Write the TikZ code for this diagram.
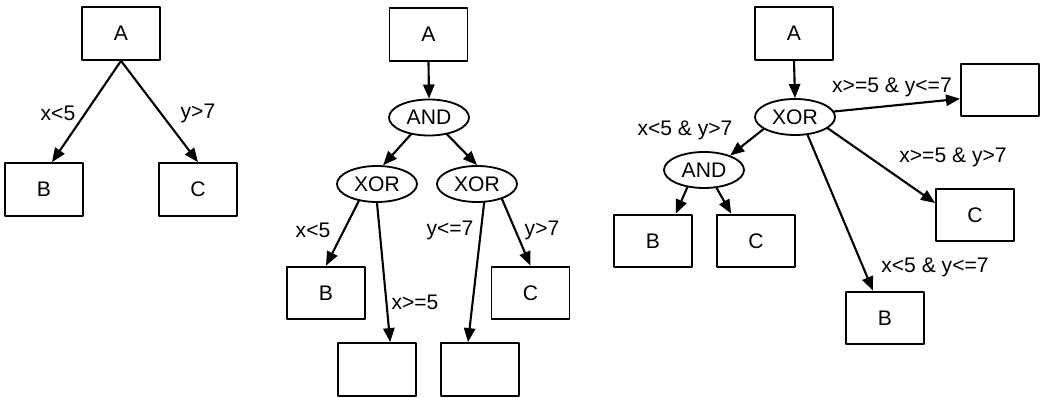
\documentclass[tikz,border=0pt]{standalone}
\usepackage{fontspec}
\setmainfont{Liberation Sans}
\usetikzlibrary{arrows.meta}
\usetikzlibrary{shapes.geometric}

\begin{document}
\begin{tikzpicture}[line cap=round,line join=round,>={Triangle[length=10pt,width=8pt]},x=0.025cm,y=-0.025cm,
every node/.style={font=\fontsize{15}{18}\selectfont},
box/.style={draw,line width=1.3pt,minimum width=1.95cm,minimum height=1.32cm,inner sep=0pt},
gate/.style={draw,ellipse,line width=1.3pt,minimum width=2cm,minimum height=0.9cm,inner sep=0pt},
cond/.style={inner sep=0pt},
link/.style={->,line width=1.5pt}]
\useasboundingbox (0,0) rectangle (1042,398);
\node[box] (A1) at (121,33.5) {A};
\node[box] (B1) at (44,189.5) {B};
\node[box] (C1) at (198,189.5) {C};
\draw[link] (A1.south) -- ([xshift=0.2cm]B1.north);
\draw[link] (A1.south) -- (C1.north);
\node[cond] (c1) at (58,113) {x<5};
\node[cond] (c2) at (198,113) {y>7};
\node[box] (A2) at (428.5,34.5) {A};
\node[gate] (N2) at (429,117.5) {AND};
\node[gate] (X2a) at (377,184) {XOR};
\node[gate] (X2b) at (477,184) {XOR};
\node[box] (B2) at (326,293) {B};
\node[box] (E2a) at (377,369.5) {};
\node[box] (E2b) at (480,369.5) {};
\node[box] (C2) at (530.5,293) {C};
\draw[link] (A2.south) -- (N2.north);
\draw[link] (N2.223) -- (X2a.72);
\draw[link] (N2.317) -- (X2b.north);
\draw[link] (X2a.223) -- (B2.north);
\draw[link] (X2a.270) -- ([xshift=0.33cm]E2a.north);
\draw[link] (X2b.291) -- ([xshift=-0.3cm]E2b.north);
\draw[link] (X2b.329) -- (C2.north);
\node[cond] (c3) at (313,230) {x<5};
\node[cond] (c4) at (415,302) {x>=5};
\node[cond] (c5) at (450,230) {y<=7};
\node[cond] (c6) at (542,230) {y>7};
\node[box] (A3) at (794,33.5) {A};
\node[gate] (X3) at (795,117) {XOR};
\node[gate] (N3) at (704,170) {AND};
\node[box] (E3) at (1000,90) {};
\node[box] (B3) at (653,241) {B};
\node[box] (C3) at (756,241) {C};
\node[box] (C4) at (975,215) {C};
\node[box] (B4) at (885,318) {B};
\draw[link] (A3.south) -- (X3.north);
\draw[link] (X3.8) -- ([yshift=-0.22cm]E3.west);
\draw[link] (X3.201) -- (N3.29);
\draw[link] (N3.226) -- ([xshift=0.57cm]B3.north);
\draw[link] (N3.305) -- ([xshift=-0.62cm]C3.north);
\draw[link] (X3.341) -- ([yshift=0.3cm]C4.west);
\draw[link] (X3.305) -- ([xshift=-0.3cm]B4.north);
\node[cond] (c7) at (892,87) {x>=5 \& y<=7};
\node[cond] (c8) at (685,130) {x<5 \& y>7};
\node[cond] (c9) at (953,157) {x>=5 \& y>7};
\node[cond] (c10) at (935,267) {x<5 \& y<=7};
\end{tikzpicture}
\end{document}
